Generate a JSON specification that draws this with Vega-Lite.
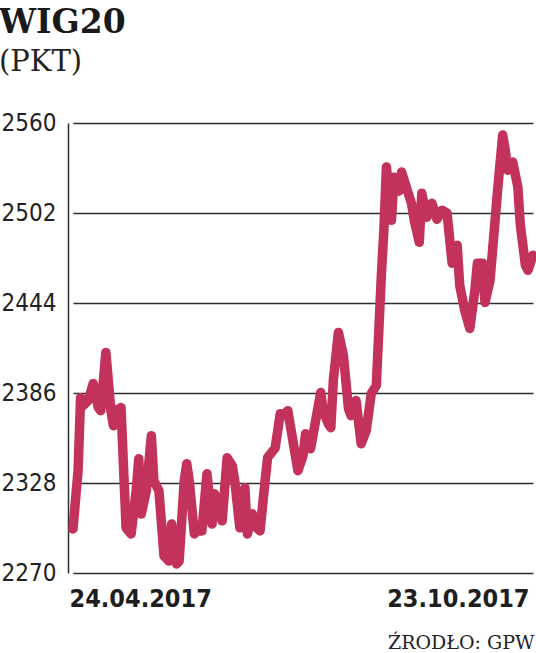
{
  "$schema": "https://vega.github.io/schema/vega-lite/v6.json",
  "width": 462,
  "height": 450,
  "autosize": {"type": "none"},
  "padding": {"left": 68, "top": 123, "right": 6, "bottom": 80},
  "background": "#ffffff",
  "config": {"view": {"stroke": null}},
  "title": {
    "text": "WIG20",
    "subtitle": "(PKT)",
    "anchor": "start",
    "dx": -2,
    "offset": 34,
    "font": "DejaVu Serif",
    "fontSize": 33,
    "fontWeight": "bold",
    "color": "#1a1a1a",
    "subtitleFont": "DejaVu Serif",
    "subtitleFontSize": 29,
    "subtitleColor": "#222222",
    "subtitlePadding": 8
  },
  "data": {
    "values": [
      {"date": "2017-04-24", "value": 2298.4},
      {"date": "2017-04-26", "value": 2335.9},
      {"date": "2017-04-27", "value": 2383.0},
      {"date": "2017-04-28", "value": 2377.9},
      {"date": "2017-04-30", "value": 2381.1},
      {"date": "2017-05-02", "value": 2392.1},
      {"date": "2017-05-04", "value": 2376.6},
      {"date": "2017-05-05", "value": 2374.6},
      {"date": "2017-05-07", "value": 2412.1},
      {"date": "2017-05-09", "value": 2374.6},
      {"date": "2017-05-10", "value": 2364.9},
      {"date": "2017-05-11", "value": 2374.6},
      {"date": "2017-05-13", "value": 2376.6},
      {"date": "2017-05-15", "value": 2299.1},
      {"date": "2017-05-17", "value": 2295.2},
      {"date": "2017-05-19", "value": 2323.0},
      {"date": "2017-05-20", "value": 2343.6},
      {"date": "2017-05-21", "value": 2308.1},
      {"date": "2017-05-23", "value": 2323.0},
      {"date": "2017-05-25", "value": 2358.5},
      {"date": "2017-05-26", "value": 2329.4},
      {"date": "2017-05-28", "value": 2323.0},
      {"date": "2017-05-30", "value": 2281.0},
      {"date": "2017-06-01", "value": 2277.7},
      {"date": "2017-06-02", "value": 2301.6},
      {"date": "2017-06-04", "value": 2275.8},
      {"date": "2017-06-05", "value": 2277.7},
      {"date": "2017-06-07", "value": 2329.4},
      {"date": "2017-06-08", "value": 2340.4},
      {"date": "2017-06-09", "value": 2329.4},
      {"date": "2017-06-11", "value": 2295.2},
      {"date": "2017-06-12", "value": 2297.1},
      {"date": "2017-06-14", "value": 2297.1},
      {"date": "2017-06-16", "value": 2333.9},
      {"date": "2017-06-18", "value": 2301.6},
      {"date": "2017-06-19", "value": 2321.0},
      {"date": "2017-06-22", "value": 2303.6},
      {"date": "2017-06-24", "value": 2344.3},
      {"date": "2017-06-26", "value": 2339.1},
      {"date": "2017-06-27", "value": 2329.4},
      {"date": "2017-06-29", "value": 2299.1},
      {"date": "2017-07-01", "value": 2324.9},
      {"date": "2017-07-02", "value": 2295.2},
      {"date": "2017-07-04", "value": 2308.1},
      {"date": "2017-07-05", "value": 2300.3},
      {"date": "2017-07-07", "value": 2297.1},
      {"date": "2017-07-09", "value": 2329.4},
      {"date": "2017-07-10", "value": 2344.3},
      {"date": "2017-07-13", "value": 2350.7},
      {"date": "2017-07-15", "value": 2372.7},
      {"date": "2017-07-16", "value": 2371.4},
      {"date": "2017-07-18", "value": 2374.6},
      {"date": "2017-07-20", "value": 2355.2},
      {"date": "2017-07-22", "value": 2335.9},
      {"date": "2017-07-24", "value": 2345.6},
      {"date": "2017-07-25", "value": 2359.8},
      {"date": "2017-07-27", "value": 2350.1},
      {"date": "2017-07-29", "value": 2368.2},
      {"date": "2017-07-31", "value": 2386.3},
      {"date": "2017-08-01", "value": 2374.6},
      {"date": "2017-08-03", "value": 2366.2},
      {"date": "2017-08-04", "value": 2363.6},
      {"date": "2017-08-05", "value": 2394.0},
      {"date": "2017-08-07", "value": 2425.0},
      {"date": "2017-08-09", "value": 2410.1},
      {"date": "2017-08-11", "value": 2375.9},
      {"date": "2017-08-12", "value": 2371.4},
      {"date": "2017-08-14", "value": 2381.1},
      {"date": "2017-08-16", "value": 2353.3},
      {"date": "2017-08-18", "value": 2361.7},
      {"date": "2017-08-20", "value": 2385.6},
      {"date": "2017-08-22", "value": 2390.8},
      {"date": "2017-08-23", "value": 2426.3},
      {"date": "2017-08-24", "value": 2461.8},
      {"date": "2017-08-25", "value": 2490.9},
      {"date": "2017-08-26", "value": 2531.6},
      {"date": "2017-08-27", "value": 2516.7},
      {"date": "2017-08-28", "value": 2497.3},
      {"date": "2017-08-29", "value": 2525.1},
      {"date": "2017-08-31", "value": 2516.1},
      {"date": "2017-09-01", "value": 2528.4},
      {"date": "2017-09-03", "value": 2518.0},
      {"date": "2017-09-05", "value": 2507.7},
      {"date": "2017-09-06", "value": 2497.3},
      {"date": "2017-09-08", "value": 2483.1},
      {"date": "2017-09-09", "value": 2514.8},
      {"date": "2017-09-11", "value": 2499.3},
      {"date": "2017-09-13", "value": 2508.3},
      {"date": "2017-09-15", "value": 2498.0},
      {"date": "2017-09-17", "value": 2503.8},
      {"date": "2017-09-19", "value": 2501.9},
      {"date": "2017-09-21", "value": 2469.6},
      {"date": "2017-09-23", "value": 2481.2},
      {"date": "2017-09-24", "value": 2455.4},
      {"date": "2017-09-26", "value": 2439.2},
      {"date": "2017-09-28", "value": 2427.6},
      {"date": "2017-09-30", "value": 2452.1},
      {"date": "2017-10-01", "value": 2469.6},
      {"date": "2017-10-03", "value": 2469.6},
      {"date": "2017-10-04", "value": 2444.4},
      {"date": "2017-10-06", "value": 2458.6},
      {"date": "2017-10-07", "value": 2478.0},
      {"date": "2017-10-09", "value": 2516.7},
      {"date": "2017-10-11", "value": 2552.2},
      {"date": "2017-10-12", "value": 2542.6},
      {"date": "2017-10-13", "value": 2529.6},
      {"date": "2017-10-15", "value": 2534.8},
      {"date": "2017-10-17", "value": 2518.7},
      {"date": "2017-10-18", "value": 2494.1},
      {"date": "2017-10-20", "value": 2468.3},
      {"date": "2017-10-21", "value": 2465.1},
      {"date": "2017-10-23", "value": 2474.7}
    ]
  },
  "mark": {
    "type": "line",
    "color": "#c2325b",
    "strokeWidth": 9.5,
    "strokeJoin": "round",
    "strokeCap": "round",
    "clip": false
  },
  "encoding": {
    "x": {
      "field": "date",
      "type": "temporal",
      "scale": {
        "type": "utc",
        "domain": [
          {"year": 2017, "month": 4, "date": 24, "utc": true},
          {"year": 2017, "month": 10, "date": 23, "utc": true}
        ],
        "range": [5, 465]
      },
      "axis": {
        "values": [
          {"year": 2017, "month": 4, "date": 24, "utc": true},
          {"year": 2017, "month": 10, "date": 23, "utc": true}
        ],
        "labelExpr": "utcFormat(datum.value, '%d.%m.%Y')",
        "grid": false,
        "domain": false,
        "ticks": false,
        "labelFlush": true,
        "labelOverlap": false,
        "labelOffset": -4,
        "labelPadding": 13,
        "labelBaseline": "top",
        "labelFont": "'DejaVu Sans Condensed', 'DejaVu Sans', sans-serif",
        "labelFontSize": 25,
        "labelFontWeight": "bold",
        "labelColor": "#1e1e1e",
        "title": "ŹRODŁO: GPW",
        "titleFont": "DejaVu Serif",
        "titleFontSize": 19,
        "titleFontWeight": "normal",
        "titleColor": "#222222",
        "titleAlign": "right",
        "titleAnchor": "end",
        "titleBaseline": "alphabetic",
        "titleX": 466,
        "titleY": 75
      }
    },
    "y": {
      "field": "value",
      "type": "quantitative",
      "scale": {"domain": [2270, 2560], "nice": false, "zero": false},
      "axis": {
        "values": [2270, 2328, 2386, 2444, 2502, 2560],
        "format": "d",
        "title": null,
        "grid": true,
        "gridColor": "#2e2e2e",
        "gridWidth": 1.5,
        "gridOpacity": 1,
        "domain": true,
        "domainColor": "#2e2e2e",
        "domainWidth": 1.5,
        "ticks": false,
        "labelAlign": "left",
        "labelBaseline": "middle",
        "labelPadding": 67,
        "labelFlush": false,
        "labelOverlap": false,
        "labelBound": false,
        "labelFont": "'DejaVu Sans Condensed', sans-serif",
        "labelFontSize": 24,
        "labelColor": "#222222"
      }
    }
  }
}
